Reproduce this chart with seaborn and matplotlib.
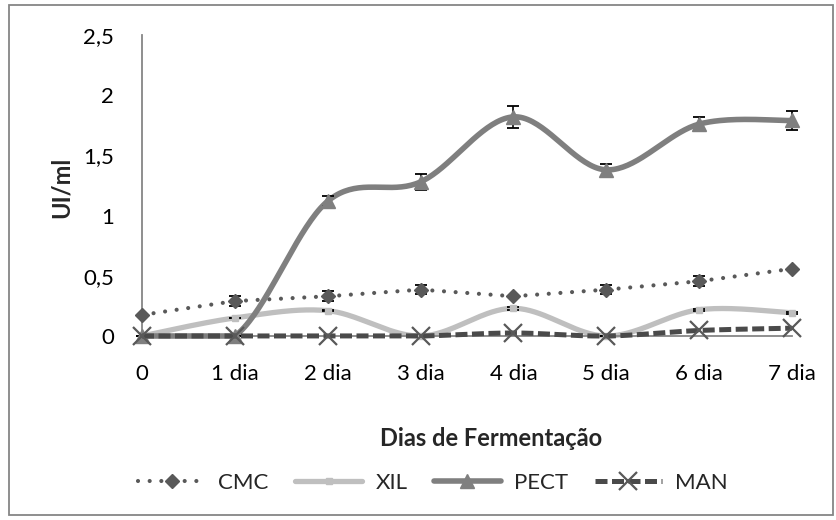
import numpy as np
import matplotlib
matplotlib.use("Agg")
import matplotlib.pyplot as plt
import seaborn as sns
from matplotlib.lines import Line2D
from matplotlib.patches import Rectangle

# ---- data ----
days = ["0", "1 dia", "2 dia", "3 dia", "4 dia", "5 dia", "6 dia", "7 dia"]
cmc = [0.175, 0.29, 0.33, 0.385, 0.33, 0.385, 0.455, 0.558]
cmc_err = [0.0, 0.04, 0.04, 0.04, 0.0, 0.04, 0.04, 0.0]
xil = [0.0, 0.15, 0.21, 0.0, 0.23, 0.0, 0.218, 0.193]
xil_err = [0.0, 0.0, 0.005, 0.0, 0.012, 0.0, 0.008, 0.01]
pect = [0.0, 0.0, 1.12, 1.28, 1.82, 1.38, 1.76, 1.79]
pect_err = [0.0, 0.0, 0.04, 0.065, 0.09, 0.05, 0.06, 0.08]
man = [0.0, 0.0, 0.0, 0.0, 0.025, 0.0, 0.046, 0.065]
yticks = [0, 0.5, 1, 1.5, 2, 2.5]
ytick_labels = ["0", "0,5", "1", "1,5", "2", "2,5"]
series_names = ["CMC", "XIL", "PECT", "MAN"]

sns.set_theme(style="white")
plt.rcParams["font.family"] = ["Lato", "DejaVu Sans"]

W, H = 837, 520
fig = plt.figure(figsize=(W / 100, H / 100), dpi=100)
ax = fig.add_axes([142 / W, 1 - 336 / H, (792 - 142) / W, (336 - 35) / H])

x = np.arange(len(days), dtype=float)


def smooth(xv, yv, n=40):
    xv = np.asarray(xv, float)
    yv = np.asarray(yv, float)
    m = len(xv)
    XX, YY = [], []
    t = np.linspace(0, 1, n)
    for i in range(m - 1):
        i0 = max(i - 1, 0)
        i3 = min(i + 2, m - 1)
        p0x, p1x = xv[i], xv[i + 1]
        p0y, p1y = yv[i], yv[i + 1]
        c1x = p0x + (xv[i + 1] - xv[i0]) / 6
        c1y = p0y + (yv[i + 1] - yv[i0]) / 6
        c2x = p1x - (xv[i3] - xv[i]) / 6
        c2y = p1y - (yv[i3] - yv[i]) / 6
        bx = (1 - t) ** 3 * p0x + 3 * (1 - t) ** 2 * t * c1x + 3 * (1 - t) * t ** 2 * c2x + t ** 3 * p1x
        by = (1 - t) ** 3 * p0y + 3 * (1 - t) ** 2 * t * c1y + 3 * (1 - t) * t ** 2 * c2y + t ** 3 * p1y
        XX.append(bx)
        YY.append(by)
    return np.concatenate(XX), np.maximum(np.concatenate(YY), 0)


c_cmc = "#595959"
c_xil = "#bfbfbf"
c_pect = "#7f7f7f"
c_man = "#4a4a4a"
dot = (0, (0.001, 2.8))
dash = (0, (2.4, 0.9))
ekw = dict(fmt="none", ecolor="black", elinewidth=1.2, capsize=4.5, capthick=1.3,
           clip_on=False)

# CMC (straight dotted)
sns.lineplot(x=x, y=cmc, ax=ax, color=c_cmc, lw=3.0, linestyle=dot,
             dash_capstyle="round", clip_on=False, zorder=2)
ax.errorbar(x, cmc, yerr=cmc_err, zorder=3, **ekw)
ax.plot(x, cmc, ls="none", marker="D", ms=7, color=c_cmc, clip_on=False, zorder=4)

# XIL
sx, sy = smooth(x, xil)
sns.lineplot(x=sx, y=sy, ax=ax, color=c_xil, lw=3.8, sort=False, estimator=None,
             clip_on=False, zorder=2)
ax.errorbar(x, xil, yerr=xil_err, zorder=3, **ekw)
ax.plot(x, xil, ls="none", marker="s", ms=5, color=c_xil, clip_on=False, zorder=4)

# PECT
sx, sy = smooth(x, pect)
sns.lineplot(x=sx, y=sy, ax=ax, color=c_pect, lw=4.0, sort=False, estimator=None,
             clip_on=False, zorder=5)
ax.errorbar(x, pect, yerr=pect_err, zorder=6, **ekw)
ax.plot(x, pect, ls="none", marker="^", ms=10, color=c_pect, clip_on=False, zorder=7)

# MAN
sx, sy = smooth(x, man)
sns.lineplot(x=sx, y=sy, ax=ax, color=c_man, lw=3.6, linestyle=dash, sort=False,
             estimator=None, dash_capstyle="butt", clip_on=False, zorder=8)
ax.plot(x, man, ls="none", marker="x", ms=13, mew=1.6, color="#595959",
        clip_on=False, zorder=9)

# axes
ax.set_xlim(0, 7)
ax.set_ylim(0, 2.5)
ax.set_xticks(x)
ax.set_xticklabels(days)
ax.set_yticks(yticks)
ax.set_yticklabels(ytick_labels)
for s in ["top", "right"]:
    ax.spines[s].set_visible(False)
for s in ["left", "bottom"]:
    ax.spines[s].set_color("#868686")
    ax.spines[s].set_linewidth(1.3)
ax.tick_params(axis="both", which="major", direction="out", length=6, width=1.3,
               color="#868686", labelsize=16, labelcolor="black")
ax.tick_params(axis="x", pad=14)
ax.tick_params(axis="y", pad=14)
ax.set_xlabel("")
ax.set_ylabel("")
ax.grid(False)

fig.text(61 / W, 1 - 187 / H, "UI/ml", rotation=90, ha="center", va="center",
         fontsize=17, fontweight="bold")
fig.text(491 / W, 1 - 438 / H, "Dias de Fermentação", ha="center", va="center",
         fontsize=17, fontweight="bold")

handles = [
    Line2D([], [], color=c_cmc, lw=3.0, linestyle=dot, dash_capstyle="round",
           marker="D", ms=7),
    Line2D([], [], color=c_xil, lw=3.8, marker="s", ms=5, solid_capstyle="round"),
    Line2D([], [], color=c_pect, lw=4.0, marker="^", ms=10, solid_capstyle="round"),
    Line2D([], [], color=c_man, lw=3.6, linestyle=dash, dash_capstyle="butt",
           marker="x", ms=13, mew=1.6, markeredgecolor="#595959"),
]
fig.legend(handles, series_names, loc="center", bbox_to_anchor=(433 / W, 1 - 483 / H),
           ncol=4, frameon=False, fontsize=16, handlelength=3.0, handletextpad=0.6,
           columnspacing=1.2)

fig.patches.append(Rectangle((9 / W, 5 / H), (833 - 9) / W, (515 - 5) / H,
                             transform=fig.transFigure, fill=False,
                             edgecolor="#868686", lw=1.3))

fig.savefig("out.png", dpi=100)
